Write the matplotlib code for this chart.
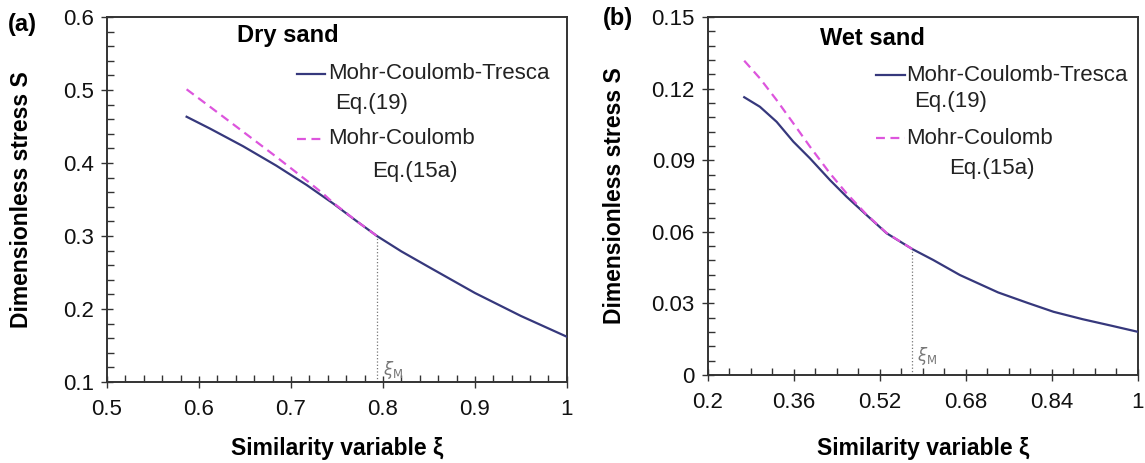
import numpy as np
import matplotlib
matplotlib.use("Agg")
import matplotlib.pyplot as plt
from matplotlib.ticker import MultipleLocator

plt.rcParams['font.family'] = ['Liberation Sans', 'DejaVu Sans']

# ---- panel (a): dry sand ----
dry_xi_mct = [0.5866, 0.612, 0.648, 0.684, 0.717, 0.746, 0.771, 0.7936, 0.82, 0.85, 0.90, 0.95, 1.00]
dry_s_mct  = [0.4634, 0.4472, 0.4230, 0.3965, 0.3700, 0.3445, 0.3208, 0.300, 0.279, 0.2575, 0.222, 0.1905, 0.162]
dry_xi_mc  = [0.5866, 0.612, 0.648, 0.684, 0.7025, 0.7207, 0.735, 0.746, 0.771, 0.7936]
dry_s_mc   = [0.501, 0.4771, 0.4429, 0.4086, 0.3904, 0.3725, 0.358, 0.3455, 0.3208, 0.300]
dry_xi_m, dry_s_m = 0.7936, 0.300

# ---- panel (b): wet sand ----
wet_xi_mct = [0.2675, 0.2967, 0.3278, 0.3588, 0.3898, 0.427, 0.458, 0.4953, 0.5325,
              0.5801, 0.6192, 0.6688, 0.740, 0.795, 0.843, 0.897, 0.952, 1.00]
wet_s_mct  = [0.1164, 0.1124, 0.1061, 0.0978, 0.0908, 0.0817, 0.0747, 0.0670, 0.0594,
              0.0528, 0.0482, 0.0419, 0.0346, 0.0302, 0.0265, 0.0234, 0.0206, 0.0181]
wet_xi_mc  = [0.2675, 0.2967, 0.3278, 0.3588, 0.3898, 0.427, 0.458, 0.4953, 0.5325, 0.5801]
wet_s_mc   = [0.1317, 0.1243, 0.1152, 0.1055, 0.0957, 0.0845, 0.0761, 0.0672, 0.0595, 0.0528]
wet_xi_m, wet_s_m = 0.5801, 0.0528

C_SOLID = "#36387c"
C_DASH  = "#dd55dd"
C_SPINE = "#333333"
C_TEXT  = "#222222"

fig = plt.figure(figsize=(11.45, 4.63), dpi=100)
ax_a = fig.add_axes([0.0934, 0.1749, 0.4017, 0.7883])
ax_b = fig.add_axes([0.6183, 0.1900, 0.3755, 0.7732])


def style_axes(ax, xlim, ylim, xmin, ymin, xticklabels, yticks, yticklabels):
    ax.set_xlim(*xlim)
    ax.set_ylim(*ylim)
    ax.set_xticks(np.linspace(xlim[0], xlim[1], len(xticklabels)))
    ax.set_xticklabels(xticklabels)
    ax.set_yticks(yticks)
    ax.set_yticklabels(yticklabels)
    ax.xaxis.set_minor_locator(MultipleLocator(xmin))
    ax.yaxis.set_minor_locator(MultipleLocator(ymin))
    for sp in ax.spines.values():
        sp.set_color(C_SPINE)
        sp.set_linewidth(1.4)
    ax.tick_params(which='major', direction='inout', length=9, width=1.0,
                   color=C_SPINE, labelsize=16, labelcolor='#111111', pad=5)
    ax.tick_params(which='minor', direction='in', length=5, width=1.0, color=C_SPINE)
    ax.tick_params(axis='x', which='major', pad=8)
    ax.set_xlabel("Similarity variable ξ", fontsize=16.5, fontweight='bold')
    ax.set_ylabel("Dimensionless stress S", fontsize=16.5, fontweight='bold')


def draw_key(ax, x0, x1, y_solid, y_eq19, y_dash, y_eq15, x_eq19, x_eq15):
    ax.plot([x0, x1], [y_solid, y_solid], color=C_SOLID, lw=1.6)
    ax.text(x1 + 0.003, y_solid, "Mohr-Coulomb-Tresca", fontsize=16, va='center', color=C_TEXT)
    ax.text(x_eq19, y_eq19, "Eq.(19)", fontsize=16, va='center', color=C_TEXT)
    ax.plot([x0, x1], [y_dash, y_dash], color=C_DASH, lw=1.6, ls=(0, (4, 2.5)))
    ax.text(x1 + 0.003, y_dash, "Mohr-Coulomb", fontsize=16, va='center', color=C_TEXT)
    ax.text(x_eq15, y_eq15, "Eq.(15a)", fontsize=16, va='center', color=C_TEXT)


# panel (a)
ax = ax_a
style_axes(ax, (0.5, 1.0), (0.1, 0.6), 0.02, 0.02,
           ["0.5", "0.6", "0.7", "0.8", "0.9", "1"],
           [0.1, 0.2, 0.3, 0.4, 0.5, 0.6], ["0.1", "0.2", "0.3", "0.4", "0.5", "0.6"])
ax.plot(dry_xi_mct, dry_s_mct, color=C_SOLID, lw=1.6, zorder=3)
ax.plot(dry_xi_mc, dry_s_mc, color=C_DASH, lw=1.6, ls=(0, (4, 2.5)), zorder=4)
ax.plot([dry_xi_m, dry_xi_m], [0.1, dry_s_m], color='#777777', lw=0.9, ls=':')
ax.text(dry_xi_m + 0.006, 0.117, r"$\xi_\mathrm{M}$", color='#777777', fontsize=12, va='center')
ax.text(0.641, 0.575, "Dry sand", fontsize=17, fontweight='bold', va='center')
draw_key(ax, 0.7065, 0.737, 0.522, 0.482, 0.433, 0.388, 0.748, 0.788)
ax.xaxis.set_label_coords(0.5, -0.15)
ax.yaxis.set_label_coords(-0.161, 0.5)

# panel (b)
ax = ax_b
style_axes(ax, (0.2, 1.0), (0.0, 0.15), 0.04, 0.006,
           ["0.2", "0.36", "0.52", "0.68", "0.84", "1"],
           [0, 0.03, 0.06, 0.09, 0.12, 0.15], ["0", "0.03", "0.06", "0.09", "0.12", "0.15"])
ax.plot(wet_xi_mct, wet_s_mct, color=C_SOLID, lw=1.6, zorder=3)
ax.plot(wet_xi_mc, wet_s_mc, color=C_DASH, lw=1.6, ls=(0, (4, 2.5)), zorder=4)
ax.plot([wet_xi_m, wet_xi_m], [0.0, wet_s_m], color='#777777', lw=0.9, ls=':')
ax.text(wet_xi_m + 0.008, 0.008, r"$\xi_\mathrm{M}$", color='#777777', fontsize=12, va='center')
ax.text(0.4085, 0.141, "Wet sand", fontsize=17, fontweight='bold', va='center')
draw_key(ax, 0.513, 0.566, 0.1256, 0.1145, 0.0992, 0.0866, 0.583, 0.648)
ax.xaxis.set_label_coords(0.5, -0.173)
ax.yaxis.set_label_coords(-0.191, 0.5)

fig.text(8 / 1145, 1 - 25 / 463, "(a)", fontsize=17, fontweight='bold', va='center')
fig.text(603 / 1145, 1 - 19 / 463, "(b)", fontsize=17, fontweight='bold', va='center')

fig.savefig("out.png", dpi=100)
